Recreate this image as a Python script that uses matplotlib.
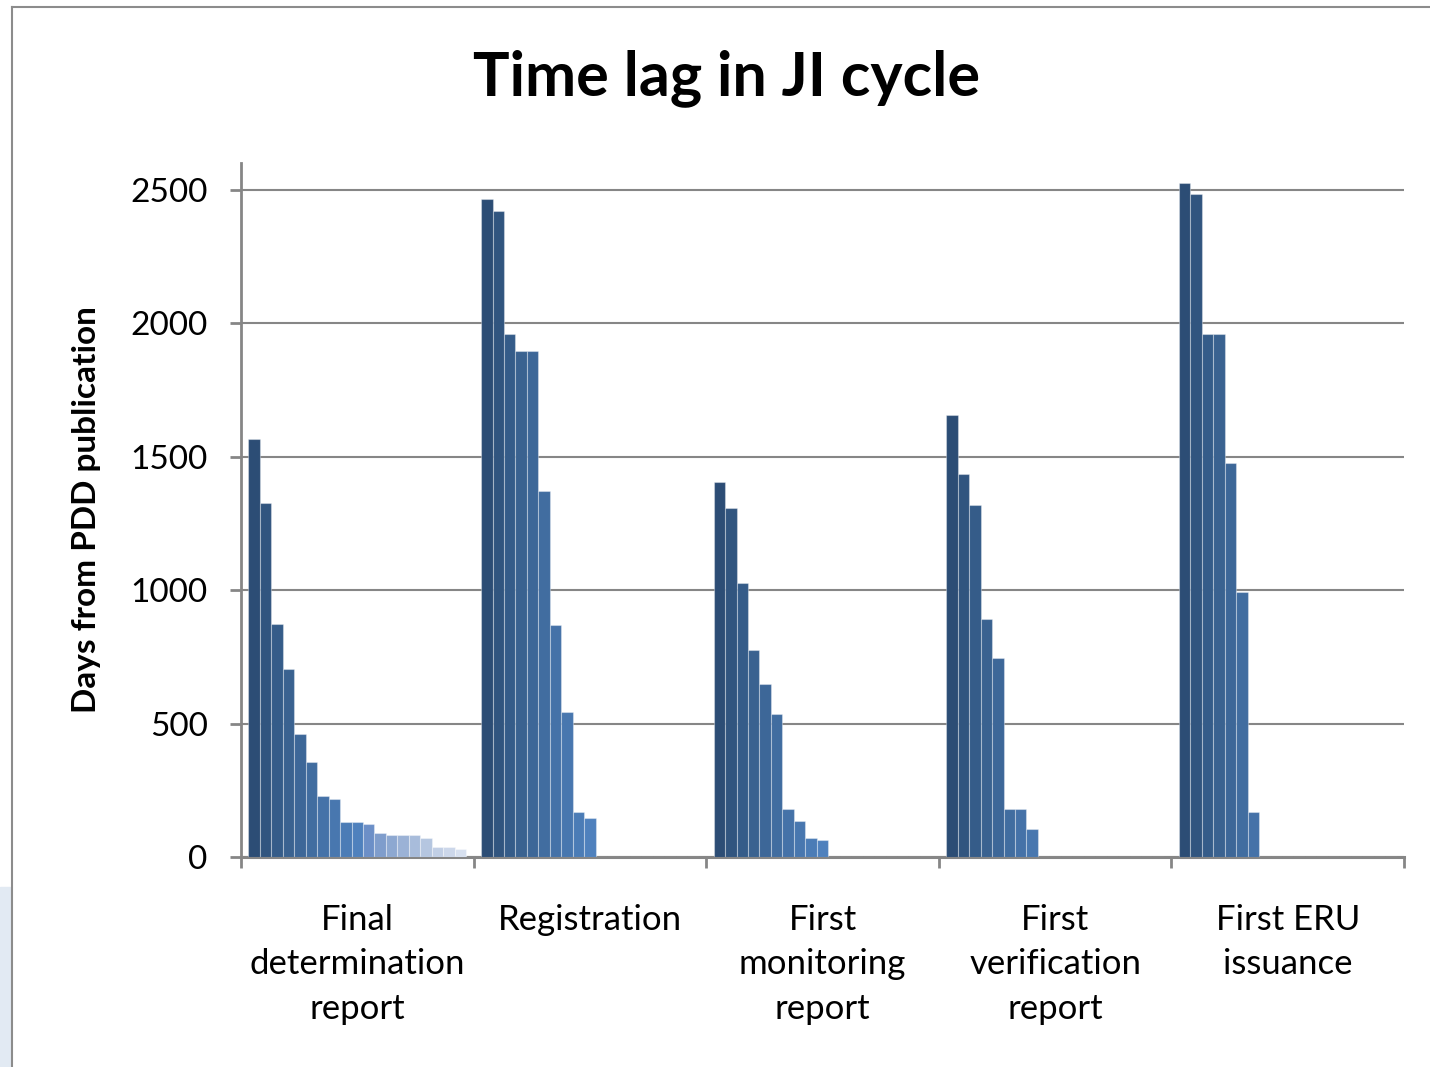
import numpy as np
import matplotlib
matplotlib.use('Agg')
import matplotlib.pyplot as plt
from matplotlib.lines import Line2D
from matplotlib.patches import Rectangle

plt.rcParams['font.family'] = ['Lato', 'DejaVu Sans']

# categories along the x axis
categories = ['Final\ndetermination\nreport', 'Registration',
              'First\nmonitoring\nreport', 'First\nverification\nreport',
              'First ERU\nissuance']

# days from PDD publication, one list per category (sorted, as in the chart)
final_determination = [1567, 1326, 872, 704, 461, 355, 228, 217, 132, 132,
                       124, 90, 83, 83, 83, 73, 38, 38, 30]
registration = [2464, 2421, 1960, 1896, 1896, 1373, 871, 544, 168, 147]
first_monitoring = [1405, 1309, 1025, 775, 650, 535, 178, 135, 72, 64]
first_verification = [1655, 1436, 1320, 890, 744, 178, 178, 104]
first_eru = [2526, 2484, 1960, 1960, 1477, 994, 168]

groups = [final_determination, registration, first_monitoring,
          first_verification, first_eru]

# series colours (dark shades -> accent blue -> light tints)
colors = ['#2C4D75', '#31557F', '#355C89', '#3A6290', '#3D6798', '#416DA0',
          '#4572A8', '#4877AF', '#4B7CB6', '#4F81BD', '#6C8FC7', '#7F9DCC',
          '#8DA8D1', '#9BB2D6', '#A8BCDB', '#B5C6E0', '#C1CFE5', '#CCD7EA',
          '#D7E0EF']

n_series = max(len(g) for g in groups)
gap = 1.3
w = 1.0 / (n_series + gap)

fig = plt.figure(figsize=(14.3, 10.67), dpi=100)
ax = fig.add_axes([241/1430, 1-857/1067, (1404-241)/1430, (857-163)/1067])

x = np.arange(len(categories))
for i in range(n_series):
    vals = [g[i] if i < len(g) else 0 for g in groups]
    pos = x - 0.5 + gap/2*w + (i + 0.5)*w
    ax.bar(pos, vals, width=w, color=colors[i],
           edgecolor=(1, 1, 1, 0.35), linewidth=0.8, zorder=3)

ax.set_xlim(-0.5, len(categories) - 0.5)
ax.set_ylim(0, 2600)
ax.set_yticks([0, 500, 1000, 1500, 2000, 2500])
ax.yaxis.grid(True, color='#868686', linewidth=1.5, zorder=0)
ax.set_axisbelow(True)

gray = '#868686'
for s in ['top', 'right']:
    ax.spines[s].set_visible(False)
ax.spines['left'].set_color(gray)
ax.spines['left'].set_linewidth(2)
ax.spines['bottom'].set_color(gray)
ax.spines['bottom'].set_linewidth(2.2)

ax.set_xticks(np.arange(len(categories) + 1) - 0.5)
ax.set_xticklabels([])
ax.set_xticks(x, minor=True)
ax.set_xticklabels(categories, minor=True, fontsize=25, linespacing=1.47)
ax.tick_params(axis='x', which='major', length=8, width=2, color=gray)
ax.tick_params(axis='x', which='minor', length=0, pad=34)
ax.tick_params(axis='y', length=8, width=2, color=gray, labelsize=24, pad=16)

ax.set_ylabel('Days from PDD publication', fontsize=24, fontweight='bold',
              labelpad=21)

fig.text(727/1430, 1-78/1067, 'Time lag in JI cycle', fontsize=44,
         fontweight='bold', ha='center', va='center')

# chart frame and slide background strip
fig.add_artist(Line2D([12/1430, 1], [1-7/1067, 1-7/1067], color='#8C8C8C',
                      linewidth=1.5, transform=fig.transFigure))
fig.add_artist(Line2D([12/1430, 12/1430], [0, 1-7/1067], color='#8C8C8C',
                      linewidth=1.5, transform=fig.transFigure))
fig.add_artist(Rectangle((0, 0), 10/1430, 180/1067, color='#E2EAF3',
                         transform=fig.transFigure, zorder=0))

fig.savefig('out.png', dpi=100)
